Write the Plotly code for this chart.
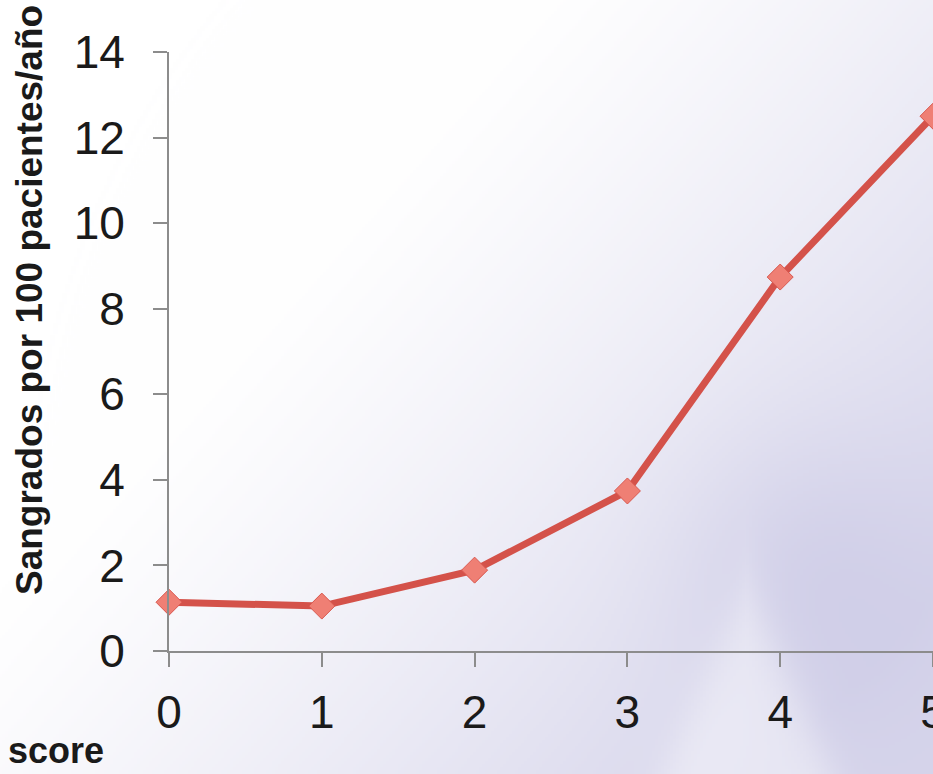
import base64, struct, zlib
import numpy as np
import plotly.graph_objects as go

# ---- data ----
scores = [0, 1, 2, 3, 4, 5]
bleeds = [1.14, 1.05, 1.89, 3.74, 8.74, 12.5]
y_ticks = [0, 2, 4, 6, 8, 10, 12, 14]
x_title = "score"
y_title = "Sangrados por 100 pacientes/año"

W, H = 933, 774
L, T, B = 169, 52, 123
PW, PH = W - L, H - T - B


def make_bg():
    h, w = H // 3, W // 3
    yy, xx = np.mgrid[0:h, 0:w].astype(float)
    X = xx * 3.0
    Y = yy * 3.0
    d = (X / W) * 0.75 + (Y / H) * 0.55 - 0.42
    wgt = np.clip(d / 0.75, 0, 1) ** 1.2 * 0.75
    blob = np.exp(-(((X - 800) / 130) ** 2 + ((Y - 560) / 140) ** 2))
    wgt = np.clip(wgt + 0.2 * blob, 0, 1)
    # soft lighter ridge
    edge = (Y - 585) * 0.45 - np.abs(X - 745)
    soft = 1 / (1 + np.exp(-edge / 12.0))
    wgt = wgt * (1 - 0.45 * soft)
    white = np.array([255, 255, 255], float)
    lav = np.array([200, 198, 228], float)
    img = white[None, None, :] * (1 - wgt[..., None]) + lav[None, None, :] * wgt[..., None]
    arr = np.clip(img, 0, 255).astype(np.uint8)
    raw = b"".join(b"\x00" + arr[i].tobytes() for i in range(h))

    def chunk(tag, data):
        c = struct.pack(">I", len(data)) + tag + data
        return c + struct.pack(">I", zlib.crc32(tag + data) & 0xFFFFFFFF)

    png = b"\x89PNG\r\n\x1a\n" + chunk(b"IHDR", struct.pack(">IIBBBBB", w, h, 8, 2, 0, 0, 0)) \
        + chunk(b"IDAT", zlib.compress(raw, 9)) + chunk(b"IEND", b"")
    return "data:image/png;base64," + base64.b64encode(png).decode()


fig = go.Figure()
fig.add_trace(go.Scatter(
    x=scores, y=bleeds, mode="lines+markers",
    line=dict(color="#d4524a", width=7),
    marker=dict(symbol="diamond", size=20, color="#ef7f74",
                line=dict(color="#d9574e", width=1)),
    cliponaxis=False, showlegend=False,
))

axis_common = dict(
    showline=True, linecolor="#8c8c8c", linewidth=2,
    ticks="outside", ticklen=14, tickcolor="#8c8c8c", tickwidth=2,
    showgrid=False, zeroline=False, ticklabeloverflow="allow", automargin=False,
    tickfont=dict(family="Liberation Sans, Arial, sans-serif", size=46, color="#1a1a1a"),
)

fig.update_layout(
    width=W, height=H,
    margin=dict(l=L, r=0, t=T, b=B, pad=0, autoexpand=False),
    paper_bgcolor="white", plot_bgcolor="rgba(0,0,0,0)",
    xaxis=dict(range=[0, 5], tickvals=scores, ticklabelstandoff=6, **axis_common),
    yaxis=dict(range=[0, 14], tickvals=y_ticks, ticklabelstandoff=19, **axis_common),
    images=[dict(source=make_bg(), xref="paper", yref="paper",
                 x=-L / PW, y=1 + T / PH, sizex=W / PW, sizey=H / PH,
                 xanchor="left", yanchor="top", sizing="stretch", layer="below")],
    annotations=[
        dict(text="<b>" + x_title + "</b>", xref="paper", yref="paper",
             x=(6 - L) / PW, y=-(H - 1 - T - PH) / PH, xanchor="left", yanchor="bottom",
             showarrow=False,
             font=dict(family="Liberation Sans, Arial, sans-serif", size=36, color="#1a1a1a")),
        dict(text="<b>" + y_title + "</b>", xref="paper", yref="paper",
             x=(29 - L) / PW, y=(T + PH - 300) / PH, xanchor="center", yanchor="middle",
             textangle=-90, showarrow=False,
             font=dict(family="Liberation Sans, Arial, sans-serif", size=37, color="#1a1a1a")),
    ],
)

fig.write_html("out.html")
